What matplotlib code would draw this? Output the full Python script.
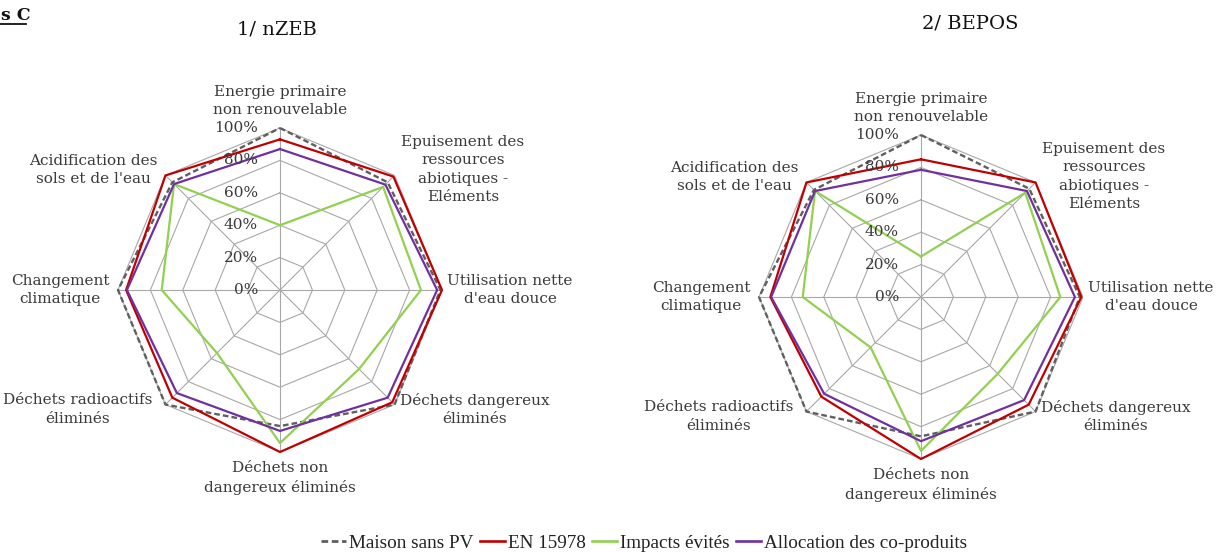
import matplotlib.pyplot as plt
import numpy as np
from matplotlib.lines import Line2D

# --- data -----------------------------------------------------------------

CATEGORIES = [
    "Energie primaire\nnon renouvelable",
    "Epuisement des\nressources\nabiotiques -\nEléments",
    "Utilisation nette\nd'eau douce",
    "Déchets dangereux\néliminés",
    "Déchets non\ndangereux éliminés",
    "Déchets radioactifs\néliminés",
    "Changement\nclimatique",
    "Acidification des\nsols et de l'eau",
]

SERIES_NAMES = ["Maison sans PV", "EN 15978", "Impacts évités", "Allocation des co-produits"]

NZEB_MAISON = [1.00, 0.94, 0.99, 1.00, 0.84, 1.00, 1.00, 0.94]
NZEB_EN15978 = [0.93, 0.99, 1.00, 0.98, 1.00, 0.94, 0.95, 1.00]
NZEB_EVITES = [0.40, 0.90, 0.87, 0.69, 0.945, 0.55, 0.73, 0.925]
NZEB_ALLOC = [0.87, 0.92, 0.97, 0.94, 0.87, 0.90, 0.945, 0.925]

BEPOS_MAISON = [1.00, 0.945, 0.98, 1.00, 0.86, 1.00, 1.00, 0.935]
BEPOS_EN15978 = [0.85, 1.00, 0.99, 0.94, 1.00, 0.87, 0.93, 1.00]
BEPOS_EVITES = [0.25, 0.91, 0.86, 0.67, 0.95, 0.44, 0.73, 0.925]
BEPOS_ALLOC = [0.785, 0.925, 0.95, 0.90, 0.89, 0.845, 0.925, 0.925]

RINGS = [0.0, 0.2, 0.4, 0.6, 0.8, 1.0]
RING_LABELS = ["0%", "20%", "40%", "60%", "80%", "100%"]

# --- style ----------------------------------------------------------------

SERIF = "DejaVu Serif"
TEXT_COLOR = "#3a3a3a"
GRID_COLOR = "#a8a8a8"
STYLES = [
    dict(color="#5f5f5f", lw=1.7, ls=(0, (2.4, 1.3))),
    dict(color="#c00000", lw=1.6, ls="-"),
    dict(color="#92d050", lw=1.6, ls="-"),
    dict(color="#7030a0", lw=1.6, ls="-"),
]

# label block centres, as offsets from the chart centre in units of the radius
LABEL_OFFSETS = [
    (0.0, 1.167), (1.13, 0.744), (1.42, 0.0), (1.20, -0.738),
    (0.0, -1.16), (-1.25, -0.738), (-1.358, 0.0), (-1.15, 0.742),
]

W, H = 1228, 552
R_PX = 162


def radar(fig, cx, cy, title, title_xy, series):
    ax = fig.add_axes([(cx - R_PX) / W, (H - cy - R_PX) / H, 2 * R_PX / W, 2 * R_PX / H],
                      projection="polar")
    ax.set_theta_zero_location("N")
    ax.set_theta_direction(-1)
    ax.set_ylim(0, 1)
    ax.axis("off")

    n = len(CATEGORIES)
    theta = np.linspace(0, 2 * np.pi, n, endpoint=False)
    closed = np.append(theta, theta[0])

    # octagonal grid
    for r in RINGS[1:]:
        ax.plot(closed, [r] * (n + 1), color=GRID_COLOR, lw=0.8, zorder=1)
    for t in theta:
        ax.plot([t, t], [0, 1], color=GRID_COLOR, lw=0.8, zorder=1)

    for values, style in zip(series, STYLES):
        vals = list(values) + [values[0]]
        ax.plot(closed, vals, color=style["color"], lw=style["lw"], ls=style["ls"],
                zorder=3, clip_on=False)

    for r, lab in zip(RINGS, RING_LABELS):
        ax.text(0.5 - 0.068, 0.5 + r / 2, lab, transform=ax.transAxes, ha="right",
                va="center", fontsize=11, family=SERIF, color=TEXT_COLOR, zorder=4)

    for lab, (dx, dy) in zip(CATEGORIES, LABEL_OFFSETS):
        ax.text(0.5 + dx / 2, 0.5 + dy / 2, lab, transform=ax.transAxes, ha="center",
                va="center", multialignment="center", fontsize=11, family=SERIF,
                color=TEXT_COLOR, linespacing=1.4)

    fig.text(title_xy[0] / W, 1 - title_xy[1] / H, title, ha="center", va="center",
             fontsize=14, family=SERIF, color="#111111")
    return ax


fig = plt.figure(figsize=(W / 100, H / 100), dpi=100)

radar(fig, 280, 290, "1/ nZEB", (277, 30),
      [NZEB_MAISON, NZEB_EN15978, NZEB_EVITES, NZEB_ALLOC])
radar(fig, 921, 297, "2/ BEPOS", (970, 24),
      [BEPOS_MAISON, BEPOS_EN15978, BEPOS_EVITES, BEPOS_ALLOC])

# section heading at the left border
fig.text(0.001, 1 - 15 / H, "s C", ha="left", va="center", fontsize=12.5,
         family=SERIF, weight="bold", color="#111111")
fig.add_artist(Line2D([0, 26 / W], [1 - 24 / H, 1 - 24 / H], color="#111111", lw=1.3))

handles = [Line2D([], [], color=s["color"], lw=s["lw"] + 0.3, ls=s["ls"]) for s in STYLES]
fig.legend(handles, SERIES_NAMES, loc="center", bbox_to_anchor=(644 / W, 1 - 543 / H),
           ncol=4, frameon=False, handlelength=1.3, handletextpad=0.15,
           columnspacing=0.35, prop=dict(family="Liberation Serif", size=13.8),
           labelcolor="#222222")

fig.savefig("out.png", dpi=100)
